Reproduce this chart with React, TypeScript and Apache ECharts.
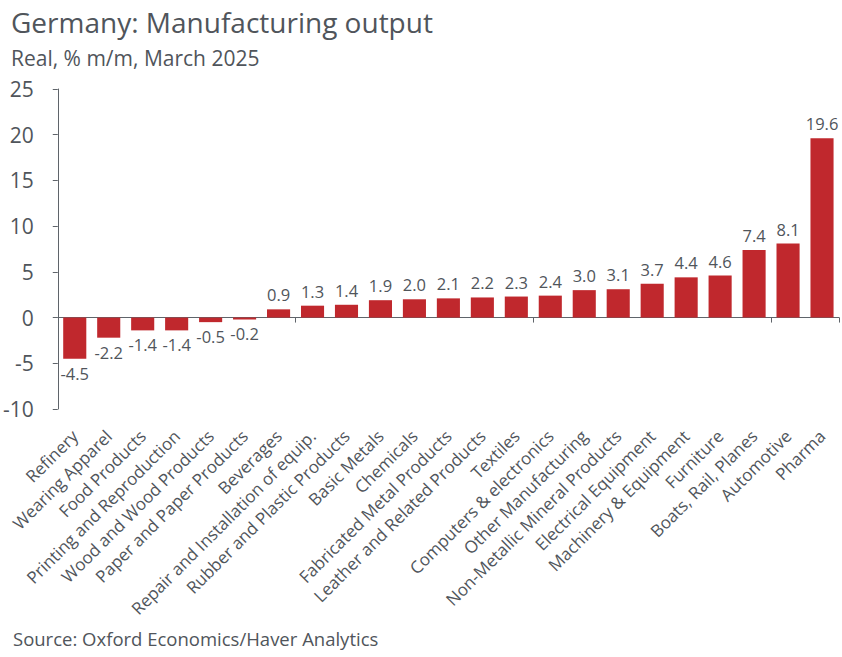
import React, { useEffect, useRef } from "react";
import * as echarts from "echarts";

const categories = [
  "Refinery",
  "Wearing Apparel",
  "Food Products",
  "Printing and Reproduction",
  "Wood and Wood Products",
  "Paper and Paper Products",
  "Beverages",
  "Repair and Installation of equip.",
  "Rubber and Plastic Products",
  "Basic Metals",
  "Chemicals",
  "Fabricated Metal Products",
  "Leather and Related Products",
  "Textiles",
  "Computers & electronics",
  "Other Manufacturing",
  "Non-Metallic Mineral Products",
  "Electrical Equipment",
  "Machinery & Equipment",
  "Furniture",
  "Boats, Rail, Planes",
  "Automotive",
  "Pharma",
];

const values = [
  -4.5, -2.2, -1.4, -1.4, -0.5, -0.2, 0.9, 1.3, 1.4, 1.9, 2.0, 2.1, 2.2, 2.3, 2.4,
  3.0, 3.1, 3.7, 4.4, 4.6, 7.4, 8.1, 19.6,
];

const yTicks = [-10, -5, 0, 5, 10, 15, 20, 25];

const FONT = "'Open Sans', 'Noto Sans', sans-serif";
const TEXT = "#50555b";
const AXIS = "#5f646a";
const BAR = "#C0282D";

export default function App() {
  const ref = useRef<HTMLDivElement>(null);
  useEffect(() => {
    if (!ref.current) return;
    const chart = echarts.init(ref.current, undefined, { renderer: "svg" });
    chart.setOption({
      animation: false,
      backgroundColor: "#ffffff",
      textStyle: { fontFamily: FONT, color: TEXT },
      title: [
        {
          text: "Germany: Manufacturing output",
          left: 6,
          top: 3,
          textStyle: { fontFamily: FONT, fontSize: 28, fontWeight: "normal", color: TEXT },
        },
        {
          text: "Real, % m/m, March 2025",
          left: 6,
          top: 42,
          textStyle: { fontFamily: FONT, fontSize: 21, fontWeight: "normal", color: TEXT },
        },
        {
          text: "Source: Oxford Economics/Haver Analytics",
          left: 8,
          top: 624,
          textStyle: { fontFamily: FONT, fontSize: 18.5, fontWeight: "normal", color: TEXT },
        },
      ],
      grid: { left: 57, right: 3, top: 89, bottom: 248, containLabel: false },
      xAxis: [
        {
          type: "category",
          data: categories,
          position: "bottom",
          axisLine: { show: false, onZero: false },
          axisTick: { show: false },
          axisLabel: {
            rotate: 45,
            interval: 0,
            margin: 24,
            fontSize: 17,
            fontFamily: FONT,
            color: TEXT,
          },
        },
        {
          type: "category",
          data: categories,
          position: "bottom",
          axisLine: { show: true, onZero: true, lineStyle: { color: AXIS, width: 1 } },
          axisTick: { show: true, length: 5, alignWithLabel: false, lineStyle: { color: AXIS } },
          axisLabel: { show: false },
        },
      ],
      yAxis: {
        type: "value",
        min: -10,
        max: 25,
        interval: 5,
        axisLine: { show: true, lineStyle: { color: AXIS, width: 1 } },
        axisTick: { show: true, length: 5, lineStyle: { color: AXIS } },
        splitLine: { show: false },
        axisLabel: {
          margin: 24,
          fontSize: 21,
          fontFamily: FONT,
          color: TEXT,
          formatter: (v: number) => (yTicks.includes(v) ? String(v) : ""),
        },
      },
      series: [
        {
          type: "bar",
          xAxisIndex: 0,
          data: values.map((v) => ({
            value: v,
            label: { position: v < 0 ? "bottom" : "top" },
          })),
          barCategoryGap: "32%",
          itemStyle: { color: BAR },
          label: {
            show: true,
            distance: 6,
            fontSize: 16.5,
            fontFamily: FONT,
            color: TEXT,
            formatter: (p: any) => Number(p.value).toFixed(1),
          },
        },
      ],
    });
    return () => chart.dispose();
  }, []);
  return (
    <div
      ref={ref}
      style={{ position: "absolute", left: 0, top: 0, width: 842, height: 657 }}
    />
  );
}
